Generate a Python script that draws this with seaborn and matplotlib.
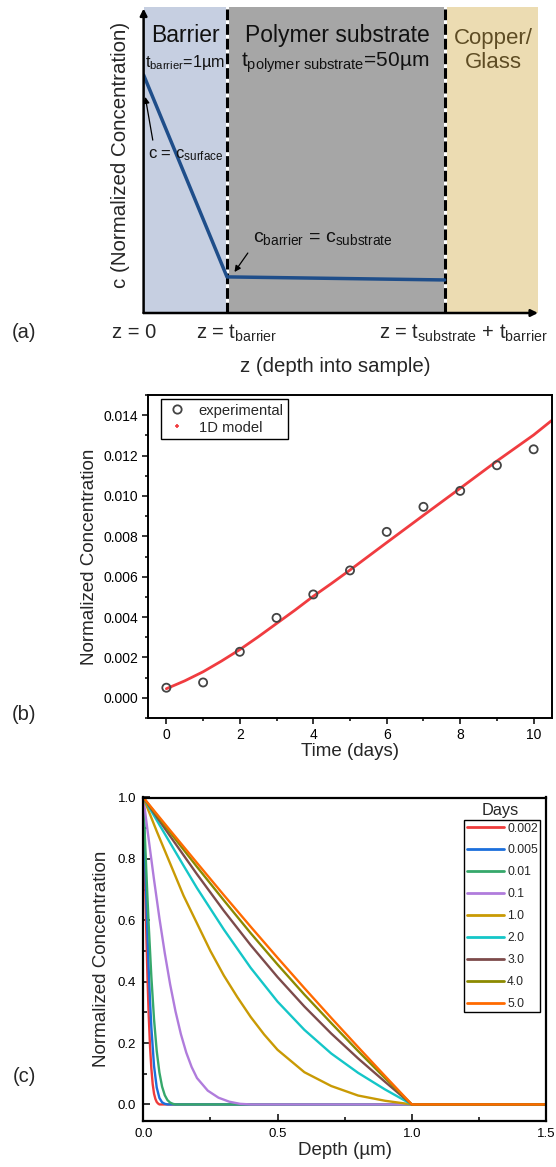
import numpy as np
import pandas as pd
import matplotlib
matplotlib.use("Agg")
import matplotlib.pyplot as plt
from matplotlib.lines import Line2D
from matplotlib.ticker import MultipleLocator, FormatStrFormatter
import seaborn as sns

# ---------------- data ----------------
# (a) schematic concentration profile through barrier and substrate
layer_edges = [0.0, 1.0, 3.61, 4.73]          # z = 0, t_barrier, t_barrier + t_substrate, end of copper/glass
layer_names = ["Barrier", "Polymer substrate", "Copper/\nGlass"]
layer_colors = ["#c6cfe1", "#a6a6a6", "#ecdcb2"]
profile_z = [0.0, 1.0, 3.61]
profile_c = [0.778, 0.118, 0.108]

# (b) normalized concentration versus time
days = [0, 1, 2, 3, 4, 5, 6, 7, 8, 9, 10]
experimental = [0.00050, 0.00076, 0.00228, 0.00396, 0.00512, 0.00631,
                0.00822, 0.00946, 0.01025, 0.01152, 0.01231]
model_days = [0, 0.5, 1, 1.5, 2, 2.5, 3, 3.5, 4, 4.5, 5, 6, 7, 8, 9, 10, 10.5]
model_conc = [0.00045, 0.00084, 0.00129, 0.00182, 0.00239, 0.00302, 0.00368,
              0.00434, 0.00503, 0.00567, 0.00633, 0.00769, 0.00904, 0.01038,
              0.01173, 0.01302, 0.01375]

# (c) depth profiles in the barrier for several exposure times (days)
day_labels = ["0.002", "0.005", "0.01", "0.1", "1.0", "2.0", "3.0", "4.0", "5.0"]
day_colors = ["#ee3b3b", "#1c6fdc", "#36a86b", "#b07cdc", "#c99a04",
              "#14c6c8", "#7d4b4b", "#8c8a00", "#ff6a00"]

depth_0002 = [0.0, 0.004, 0.008, 0.012, 0.016, 0.020, 0.025, 0.030, 0.035, 0.040, 0.045, 0.050, 0.055, 0.060, 1.0, 1.5]
conc_0002 = [1.0, 0.834, 0.676, 0.530, 0.402, 0.294, 0.190, 0.117, 0.066, 0.035, 0.018, 0.008, 0.003, 0.0, 0.0, 0.0]

depth_0005 = [0.0, 0.005, 0.010, 0.015, 0.020, 0.025, 0.030, 0.040, 0.050, 0.060, 0.070, 0.080, 0.090, 1.0, 1.5]
conc_0005 = [1.0, 0.848, 0.701, 0.565, 0.443, 0.338, 0.251, 0.125, 0.055, 0.021, 0.007, 0.002, 0.0, 0.0, 0.0]

depth_001 = [0.0, 0.005, 0.010, 0.015, 0.020, 0.030, 0.040, 0.050, 0.060, 0.070, 0.080, 0.090, 0.100, 0.110, 0.120, 1.0, 1.5]
conc_001 = [1.0, 0.892, 0.786, 0.684, 0.587, 0.416, 0.277, 0.174, 0.104, 0.058, 0.030, 0.014, 0.006, 0.002, 0.0, 0.0, 0.0]

depth_01 = [0.0, 0.02, 0.04, 0.06, 0.08, 0.10, 0.12, 0.14, 0.16, 0.18, 0.20, 0.24, 0.28, 0.32, 0.36, 0.40, 1.0, 1.5]
conc_01 = [1.0, 0.864, 0.732, 0.607, 0.493, 0.391, 0.303, 0.229, 0.169, 0.122, 0.086, 0.045, 0.022, 0.009, 0.002, 0.0, 0.0, 0.0]

depth_1 = [0.0, 0.05, 0.10, 0.15, 0.20, 0.25, 0.30, 0.35, 0.40, 0.45, 0.50, 0.60, 0.70, 0.80, 0.90, 1.0, 1.5]
conc_1 = [1.0, 0.89, 0.785, 0.68, 0.59, 0.50, 0.42, 0.35, 0.285, 0.228, 0.178, 0.105, 0.060, 0.029, 0.012, 0.0, 0.0]

depth_2 = [0.0, 0.05, 0.10, 0.15, 0.20, 0.30, 0.40, 0.50, 0.60, 0.70, 0.80, 0.90, 1.0, 1.5]
conc_2 = [1.0, 0.926, 0.852, 0.778, 0.705, 0.570, 0.445, 0.335, 0.243, 0.166, 0.103, 0.049, 0.0, 0.0]

depth_3 = [0.0, 0.1, 0.2, 0.3, 0.4, 0.5, 0.6, 0.7, 0.8, 0.9, 1.0, 1.5]
conc_3 = [1.0, 0.874, 0.750, 0.631, 0.519, 0.415, 0.319, 0.231, 0.150, 0.074, 0.0, 0.0]

depth_4 = [0.0, 0.1, 0.2, 0.3, 0.4, 0.5, 0.6, 0.7, 0.8, 0.9, 1.0, 1.5]
conc_4 = [1.0, 0.886, 0.774, 0.665, 0.558, 0.456, 0.358, 0.265, 0.174, 0.086, 0.0, 0.0]

depth_5 = [0.0, 0.1, 0.2, 0.3, 0.4, 0.5, 0.6, 0.7, 0.8, 0.9, 1.0, 1.5]
conc_5 = [1.0, 0.893, 0.787, 0.682, 0.579, 0.478, 0.379, 0.282, 0.187, 0.093, 0.0, 0.0]

profiles = [(depth_0002, conc_0002), (depth_0005, conc_0005), (depth_001, conc_001),
            (depth_01, conc_01), (depth_1, conc_1), (depth_2, conc_2),
            (depth_3, conc_3), (depth_4, conc_4), (depth_5, conc_5)]

# ---------------- style ----------------
sns.set_theme(style="ticks")
plt.rcParams["font.family"] = ["Liberation Sans", "DejaVu Sans"]
plt.rcParams["mathtext.fontset"] = "custom"
plt.rcParams["mathtext.rm"] = "Liberation Sans"
plt.rcParams["mathtext.it"] = "Liberation Sans:italic"
plt.rcParams["mathtext.default"] = "regular"
plt.rcParams["axes.edgecolor"] = "black"
plt.rcParams["xtick.color"] = "black"
plt.rcParams["ytick.color"] = "black"

W, H = 556, 1167
fig = plt.figure(figsize=(W / 100, H / 100), dpi=100)
fig.patch.set_facecolor("white")


def px_axes(left, top, right, bottom):
    return fig.add_axes([left / W, 1 - bottom / H, (right - left) / W, (bottom - top) / H])


def fig_text(x, y, s, **kw):
    fig.text(x / W, 1 - y / H, s, **kw)


# ---------------- (a) schematic ----------------
axa = px_axes(143.6, 7, 538, 313)
axa.set_xlim(layer_edges[0], layer_edges[-1])
axa.set_ylim(0, 1)
for i in range(3):
    axa.axvspan(layer_edges[i], layer_edges[i + 1], color=layer_colors[i], lw=0, zorder=0)
for zb in layer_edges[1:3]:
    axa.plot([zb, zb], [0, 1], color="white", lw=2.2, zorder=1)
    axa.plot([zb, zb], [0, 1], color="black", lw=2.2, ls=(0, (3.5, 1.3)), zorder=2)
sns.lineplot(x=profile_z, y=profile_c, ax=axa, color="#1f4e8a", lw=2.5, sort=False,
             estimator=None, zorder=3)
for s in axa.spines.values():
    s.set_visible(False)
axa.set_xticks([])
axa.set_yticks([])
axa.set_xlabel("")
axa.set_ylabel("")
axa.annotate("", xy=(4.73, 0), xytext=(0, 0), xycoords="data",
             arrowprops=dict(arrowstyle="-|>", color="black", lw=1.8, mutation_scale=10,
                             shrinkA=0, shrinkB=0), annotation_clip=False)
axa.annotate("", xy=(0, 0.995), xytext=(0, 0), xycoords="data",
             arrowprops=dict(arrowstyle="-|>", color="black", lw=1.8, mutation_scale=10,
                             shrinkA=0, shrinkB=0), annotation_clip=False)

axa.text(0.50, 0.908, layer_names[0], ha="center", va="center", fontsize=16.5, color="#111111")
axa.text(0.50, 0.817, "t$_{barrier}$=1µm", ha="center", va="center", fontsize=11.6, color="#111111")
axa.text(2.32, 0.908, layer_names[1], ha="center", va="center", fontsize=16.5, color="#111111")
axa.text(2.30, 0.817, "t$_{polymer\\ substrate}$=50µm", ha="center", va="center",
         fontsize=15, color="#111111")
axa.text(4.19, 0.858, layer_names[2], ha="center", va="center", fontsize=16,
         color="#5e4c24", linespacing=1.2)
axa.text(0.51, 0.516, "c = c$_{surface}$", ha="center", va="center", fontsize=12, color="#111111")
axa.text(2.15, 0.245, "c$_{barrier}$ = c$_{substrate}$", ha="center", va="center",
         fontsize=14, color="#111111")
axa.annotate("", xy=(0.02, 0.706), xytext=(0.11, 0.565),
             arrowprops=dict(arrowstyle="-|>", color="black", lw=0.9, mutation_scale=9,
                             shrinkA=0, shrinkB=0))
axa.annotate("", xy=(1.09, 0.134), xytext=(1.25, 0.196),
             arrowprops=dict(arrowstyle="-|>", color="black", lw=0.9, mutation_scale=9,
                             shrinkA=0, shrinkB=0))

fig_text(134, 333, "z = 0", ha="center", va="center", fontsize=14.5)
fig_text(237, 333, "z = t$_{barrier}$", ha="center", va="center", fontsize=14.5)
fig_text(463, 333, "z = t$_{substrate}$ + t$_{barrier}$", ha="center", va="center", fontsize=14.5)
fig_text(335, 367, "z (depth into sample)", ha="center", va="center", fontsize=14.7)
fig_text(120, 155, "c (Normalized Concentration)", ha="center", va="center",
         fontsize=14.8, rotation=90)
fig_text(24, 333, "(a)", ha="center", va="center", fontsize=14.5)

# ---------------- (b) concentration versus time ----------------
axb = px_axes(148, 395, 552, 718)
sns.lineplot(x=model_days, y=model_conc, ax=axb, color="#f03c40", lw=2.0, estimator=None)
sns.scatterplot(x=days, y=experimental, ax=axb, s=34, color="none",
                edgecolor="#444444", linewidth=1.3, zorder=4)
axb.collections[-1].set_facecolor("none")
axb.set_xlim(-0.5, 10.5)
axb.set_ylim(-0.001, 0.015)
axb.xaxis.set_major_locator(MultipleLocator(2))
axb.xaxis.set_minor_locator(MultipleLocator(1))
axb.yaxis.set_major_locator(MultipleLocator(0.002))
axb.yaxis.set_minor_locator(MultipleLocator(0.001))
axb.yaxis.set_major_formatter(FormatStrFormatter("%.3f"))
axb.tick_params(which="major", direction="out", length=4, width=1.1, labelsize=10, pad=3)
axb.tick_params(which="minor", direction="out", length=2.5, width=1.1)
for s in axb.spines.values():
    s.set_linewidth(1.4)
axb.set_xlabel("Time (days)", fontsize=13.5, labelpad=1)
axb.set_ylabel("Normalized Concentration", fontsize=13.5, labelpad=4)
handles_b = [
    Line2D([], [], ls="none", marker="o", ms=6, mfc="none", mec="#444444", mew=1.3),
    Line2D([], [], ls="none", marker="+", ms=3.5, color="#f03c40", mew=1.2),
]
leg_b = axb.legend(handles_b, ["experimental", "1D model"], loc="upper left",
                   bbox_to_anchor=(0.031, 0.987), borderaxespad=0, fontsize=10.6,
                   frameon=True, fancybox=False, framealpha=1, edgecolor="black",
                   handlelength=1.6, handletextpad=0.7, labelspacing=0.2,
                   borderpad=0.3)
leg_b.get_frame().set_linewidth(1.0)
fig_text(24, 714, "(b)", ha="center", va="center", fontsize=14.5)

# ---------------- (c) depth profiles ----------------
rows = []
for lab, (dz, cz) in zip(day_labels, profiles):
    for d, c in zip(dz, cz):
        rows.append((lab, d, c))
df_c = pd.DataFrame(rows, columns=["days", "depth", "conc"])

axc = px_axes(143.3, 797.5, 546, 1120.7)
sns.lineplot(data=df_c, x="depth", y="conc", hue="days", hue_order=day_labels,
             palette=day_colors, estimator=None, sort=False, lw=1.7, ax=axc, legend=False)
axc.set_xlim(0, 1.5)
axc.set_ylim(-0.053, 1.0)
axc.xaxis.set_major_locator(MultipleLocator(0.5))
axc.xaxis.set_minor_locator(MultipleLocator(0.25))
axc.yaxis.set_major_locator(MultipleLocator(0.2))
axc.yaxis.set_minor_locator(MultipleLocator(0.1))
axc.xaxis.set_major_formatter(FormatStrFormatter("%.1f"))
axc.yaxis.set_major_formatter(FormatStrFormatter("%.1f"))
axc.tick_params(which="major", direction="in", length=5, width=1.1, labelsize=9.5, pad=5)
axc.tick_params(which="minor", direction="in", length=3, width=1.1)
for s in axc.spines.values():
    s.set_linewidth(1.6)
axc.set_xlabel("Depth (µm)", fontsize=13.5, labelpad=2)
axc.set_ylabel("Normalized Concentration", fontsize=13.5, labelpad=6)
handles_c = [Line2D([], [], color=c, lw=2.0) for c in day_colors]
leg_c = axc.legend(handles_c, day_labels, loc="upper left", bbox_to_anchor=(0.797, 0.93),
                   borderaxespad=0, fontsize=8.7, frameon=True, fancybox=False,
                   framealpha=1, edgecolor="black", handlelength=3.1,
                   handletextpad=0.25, labelspacing=0.82, borderpad=0.2)
leg_c.get_frame().set_linewidth(1.0)
fig_text(500, 811, "Days", ha="center", va="center", fontsize=11.8)
fig_text(24, 1077, "(c)", ha="center", va="center", fontsize=14.5)

fig.savefig("out.png", dpi=100, facecolor="white")
